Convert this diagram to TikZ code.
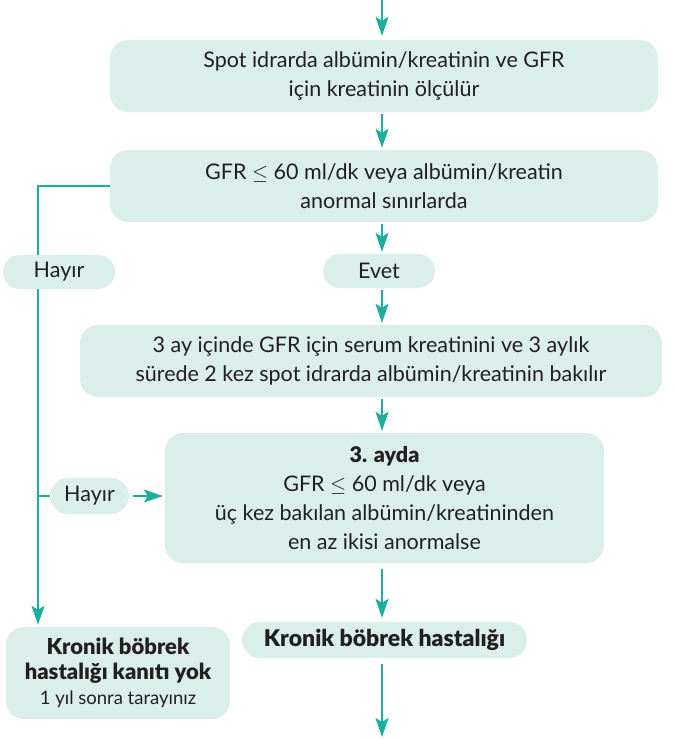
\documentclass[tikz,border=0pt]{standalone}
\usepackage{fontspec}
\setmainfont{Lato}[BoldFont={Lato Black}]
\usetikzlibrary{arrows.meta,backgrounds}
\definecolor{tealline}{HTML}{1AAE9F}
\definecolor{boxfill}{HTML}{DAEEEA}
\definecolor{txt}{HTML}{231F20}
\tikzset{
  box/.style={fill=boxfill, draw=none, rounded corners=18pt, align=center, inner sep=0pt, text=txt,
    font=\fontsize{21.5}{29}\selectfont},
  pill/.style={fill=boxfill, draw=none, rounded corners=17pt, align=center, inner sep=0pt, text=txt,
    font=\fontsize{21.5}{29}\selectfont},
  conn/.style={draw=tealline, line width=1.6pt},
  arr/.style={conn, -{Stealth[length=19pt,width=13pt,inset=4pt]}},
}
\begin{document}
\begin{tikzpicture}[x=1pt,y=-1pt]
\useasboundingbox (0,0) rectangle (676,740);
\coordinate (top) at (382,0);
\coordinate (bot) at (382,737);
\coordinate (L) at (38,0);

\node[box, minimum width=548pt, minimum height=72pt] (b1) at (384,76)
  {Spot idrarda albümin/kreatinin ve GFR\\için kreatinin ölçülür};
\node[box, minimum width=548pt, minimum height=72pt] (b2) at (384,186)
  {GFR $\leq$ 60 ml/dk veya albümin/kreatin\\anormal sınırlarda};
\node[pill, minimum width=112pt, minimum height=34pt] (h1) at (59,272) {Hayır};
\node[pill, minimum width=112pt, minimum height=34pt] (ev) at (379,271) {Evet};
\node[box, minimum width=582pt, minimum height=72pt] (b3) at (371,361)
  {3 ay içinde GFR için serum kreatinini ve 3 aylık\\sürede 2 kez spot idrarda albümin/kreatinin bakılır};
\node[box, minimum width=439pt, minimum height=130pt] (b4) at (384.5,498)
  {\textbf{3. ayda}\\GFR $\leq$ 60 ml/dk veya\\üç kez bakılan albümin/kreatininden\\en az ikisi anormalse};
\node[pill, minimum width=79pt, minimum height=36pt, rounded corners=18pt] (h2) at (89.5,496) {Hayır};
\node[pill, minimum width=285pt, minimum height=36pt, rounded corners=18pt, font=\fontsize{23}{29}\selectfont] (pk) at (384.5,640)
  {\textbf{Kronik böbrek hastalığı}};
\node[box, minimum width=224pt, minimum height=92pt, font=\fontsize{22}{25}\selectfont] (b5) at (118,673)
  {\textbf{Kronik böbrek}\\\textbf{hastalığı kanıtı yok}\\{\fontsize{18.5}{24}\selectfont 1 yıl sonra tarayınız}};

\begin{scope}[on background layer]
  \draw[arr, shorten >=4pt] (top) -- (b1.north -| top);
  \draw[arr, shorten <=2pt, shorten >=2pt] (b1.south -| top) -- (b2.north -| top);
  \draw[arr, shorten <=2pt, shorten >=2pt] (b2.south -| top) -- (ev.north -| top);
  \draw[arr, shorten <=2pt, shorten >=2pt] (ev.south -| top) -- (b3.north -| top);
  \draw[arr, shorten <=2pt, shorten >=2pt] (b3.south -| top) -- (b4.north -| top);
  \draw[arr, shorten <=6pt, shorten >=4pt] (b4.south -| top) -- (pk.north -| top);
  \draw[arr, shorten <=6pt] (pk.south -| top) -- (bot);
  \draw[arr, shorten >=2pt] (b2.west) -| (b5.north -| L);
  \draw[conn] (h2.west -| L) -- (h2.west);
  \draw[arr, shorten <=4pt, shorten >=2pt] (h2.east) -- (b4.west |- h2.east);
\end{scope}
\end{tikzpicture}
\end{document}
